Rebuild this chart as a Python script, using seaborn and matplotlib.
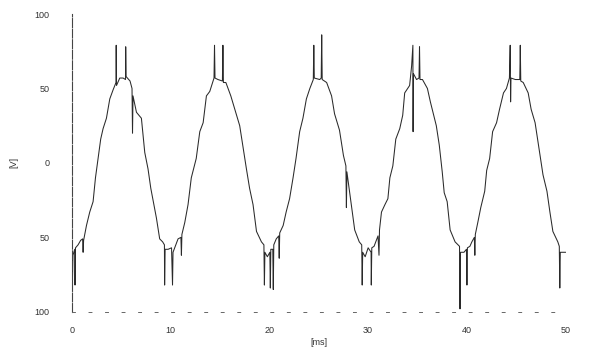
import matplotlib
matplotlib.use("Agg")
import matplotlib.pyplot as plt
import seaborn as sns
import pandas as pd

# ---- data (time in ms, voltage in V) ----
time_ms = [
    0.0, 0.05, 0.12, 0.3, 0.33, 0.38, 0.64, 0.9, 1.1, 1.15, 1.2, 1.49, 1.82, 2.16, 2.4,
    2.67, 2.93, 3.17, 3.51, 3.85, 4.18, 4.48, 4.5, 4.53, 4.86, 5.2, 5.44, 5.46, 5.5,
    5.9, 6.1, 6.15, 6.2, 6.55, 7.05, 7.39, 7.72, 8.0, 8.2, 8.57, 8.9, 9.2, 9.38, 9.4,
    9.45, 9.75, 10.1, 10.2, 10.25,
    10.76, 11.05, 11.1, 11.15, 11.44, 11.77, 12.1, 12.6, 12.96, 13.3, 13.63, 13.97,
    14.4, 14.45, 14.5, 14.8, 15.25, 15.3, 15.35, 15.6, 16.1, 16.5, 17.0, 17.35, 17.68,
    18.0, 18.35, 18.7, 19.2, 19.45, 19.5, 19.55, 19.8, 20.05, 20.1, 20.15,
    20.35, 20.4, 20.45, 20.7, 20.95, 21.0, 21.05, 21.4, 21.7, 22.05, 22.4, 22.7, 23.07,
    23.4, 23.75, 24.1, 24.45, 24.5, 24.55, 25.1, 25.25, 25.3, 25.35, 25.8, 26.3, 26.6,
    27.1, 27.5, 27.75, 27.8, 27.85, 28.3, 28.64, 29.1, 29.35, 29.4, 29.45, 29.7, 30.0,
    30.3, 30.32, 30.37,
    30.6, 31.0, 31.1, 31.15, 31.35, 31.7, 32.0, 32.2, 32.5, 32.8, 33.2, 33.5, 33.7,
    34.2, 34.4, 34.53, 34.55, 34.58, 34.9, 35.15, 35.2, 35.25, 35.5, 36.0, 36.3, 36.9,
    37.2, 37.5, 37.7, 38.0, 38.3, 38.8, 39.25, 39.3, 39.35, 39.7, 39.95, 40.0, 40.05,
    40.3, 40.5,
    40.75, 40.8, 40.85, 41.1, 41.4, 41.8, 42.0, 42.3, 42.6, 43.0, 43.3, 43.7, 44.0,
    44.3, 44.38, 44.42, 44.46, 44.9, 45.35, 45.4, 45.45, 45.7, 46.2, 46.5, 46.9, 47.4,
    47.7, 48.1, 48.4, 48.7, 49.2, 49.35, 49.4, 49.45, 49.7, 50.0,
]
volts = [
    -65, -85, -62, -58, -82, -57, -55, -52, -51, -60, -52, -42, -33, -26, -10,
    3, 16, 23, 30, 43, 49, 54, 79, 52, 57, 57, 56, 78, 58,
    55, 50, 20, 45, 34, 30, 7, -4, -17, -24, -37, -51, -53, -55, -82,
    -58, -58, -57, -82, -60,
    -51, -50, -62, -48, -40, -28, -10, 3, 21, 27, 45, 48,
    57, 79, 57, 56, 55, 79, 54, 54, 45, 36, 25, 10, -4,
    -17, -28, -46, -53, -55, -82, -60, -63, -60, -84, -58,
    -58, -85, -55, -51, -49, -64, -47, -42, -33, -24, -10, 3, 21,
    30, 43, 50, 56, 79, 57, 56, 57, 86, 56, 54, 45, 33,
    22, 5, -2, -30, -6, -28, -45, -53, -55, -82, -60, -63, -57,
    -60, -82, -57,
    -56, -49, -62, -45, -33, -28, -24, -10, -2, 16, 23, 32, 47,
    52, 65, 79, 21, 60, 56, 57, 78, 56, 56, 50, 41, 25,
    12, -6, -20, -26, -45, -53, -56, -98, -60, -60, -58, -82, -57,
    -56, -53,
    -50, -62, -48, -40, -30, -19, -5, 3, 21, 27, 36, 47, 50,
    57, 79, 41, 57, 56, 56, 79, 55, 54, 47, 36, 27, 5,
    -8, -19, -33, -46, -53, -56, -84, -60, -60, -60,
]

y_ticks = [-100, -50, 0, 50, 100]
y_tick_labels = ["100", "50", "0", "50", "100"]   # minus signs are lost in the scan
x_ticks = [0, 10, 20, 30, 40, 50]
x_tick_labels = ["0", "10", "20", "30", "40", "50"]

df = pd.DataFrame({"t": time_ms, "v": volts})

sns.set_style("white")
plt.rcParams["font.family"] = ["Liberation Sans", "DejaVu Sans"]

fig = plt.figure(figsize=(5.93, 3.5), dpi=100)
ax = fig.add_axes([0.121, 0.109, 0.833, 0.851])

sns.lineplot(data=df, x="t", y="v", ax=ax, estimator=None, sort=False,
             color="#2a2a2a", linewidth=0.75)

ax.set_xlim(0, 50)
ax.set_ylim(-100, 100)
ax.set_yticks(y_ticks)
ax.set_yticklabels(y_tick_labels, fontsize=6.5, color="#333333")
ax.set_xticks(x_ticks)
ax.set_xticklabels(x_tick_labels, fontsize=6.5, color="#333333")
ax.tick_params(axis="y", length=2, width=0.6, color="#555555", pad=14)
ax.tick_params(axis="x", length=2, width=0.6, color="#555555", direction="in", pad=10)

ax.set_xlabel("[ms]", fontsize=6.5, color="#333333", labelpad=2)
ax.set_ylabel("[V]", fontsize=6.5, color="#333333")
ax.yaxis.set_label_coords(-0.108, 0.5)

for side in ["top", "right"]:
    ax.spines[side].set_visible(False)
ax.spines["left"].set_color("#444444")
ax.spines["left"].set_linewidth(0.8)
ax.spines["left"].set_linestyle((0, (8, 1.5)))
ax.spines["bottom"].set_color("#666666")
ax.spines["bottom"].set_linewidth(0.7)
ax.spines["bottom"].set_linestyle((0, (3, 14)))

fig.savefig("out.png", dpi=100)
